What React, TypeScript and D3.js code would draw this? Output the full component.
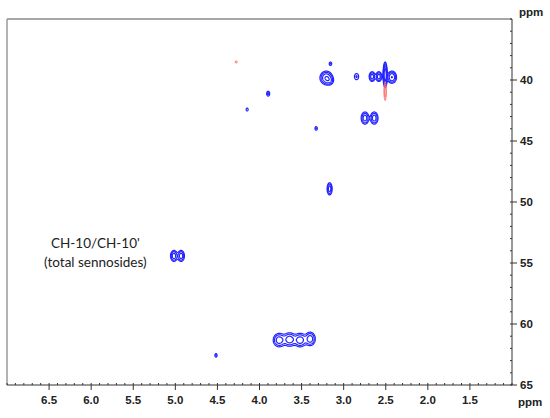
import React, { useMemo } from "react";
import * as d3 from "d3";

// Axis domains (ppm) — 1H on x (reversed), 13C on y (downwards)
const X_DOMAIN = [7.0, 1.0];
const Y_DOMAIN = [35, 65];
const xTickValues = [6.5, 6.0, 5.5, 5.0, 4.5, 4.0, 3.5, 3.0, 2.5, 2.0, 1.5];
const xTickLabels = ["6.5", "6.0", "5.5", "5.0", "4.5", "4.0", "3.5", "3.0", "2.5", "2.0", "1.5"];
const yTickValues = [40, 45, 50, 55, 60, 65];
const yTickLabels = ["40", "45", "50", "55", "60", "65"];
const xMinorStep = 0.1;
const yMinorStep = 1;

// Cross peaks
const peakX = [4.28, 3.16, 3.21, 3.17, 2.85, 2.665, 2.585, 2.51, 2.43, 2.51, 3.9, 4.15, 2.75, 2.64, 3.33, 3.17, 5.02, 4.935, 3.77, 3.645, 3.52, 3.40, 4.52];
const peakY = [38.5, 38.65, 39.8, 40.05, 39.7, 39.7, 39.7, 39.55, 39.75, 40.9, 41.1, 42.4, 43.1, 43.1, 43.95, 48.9, 54.4, 54.4, 61.3, 61.25, 61.3, 61.2, 62.55];
const peakHalfX = [0.012, 0.015, 0.075, 0.035, 0.025, 0.035, 0.035, 0.025, 0.055, 0.014, 0.018, 0.012, 0.045, 0.045, 0.014, 0.03, 0.04, 0.04, 0.07, 0.07, 0.07, 0.06, 0.013];
const peakHalfY = [0.08, 0.14, 0.55, 0.25, 0.25, 0.4, 0.4, 1.05, 0.5, 0.75, 0.2, 0.12, 0.5, 0.5, 0.15, 0.5, 0.45, 0.45, 0.55, 0.55, 0.55, 0.55, 0.15];
const peakHeight = [1.5, 1.8, 5, 2, 1.8, 4, 4, 8, 5, 2.5, 2, 1.6, 4, 4, 1.8, 4, 4, 4, 4, 4, 4, 4, 1.8];
const peakSign = [-1, 1, 1, 1, 1, 1, 1, 1, 1, -1, 1, 1, 1, 1, 1, 1, 1, 1, 1, 1, 1, 1, 1];
const contourLevels = [1, 1.7, 2.9, 4.9, 8.3];

const annotationLines = ["CH-10/CH-10'", "(total sennosides)"];
const annotationPos = [5.95, 53.8];

const W = 550;
const H = 418;
const M = { left: 7, top: 19, right: 512, bottom: 385 };

export default function App() {
  const x = d3.scaleLinear().domain(X_DOMAIN).range([M.left, M.right]);
  const y = d3.scaleLinear().domain(Y_DOMAIN).range([M.top, M.bottom]);

  const { pos, neg } = useMemo(() => {
    const R = 2;
    const n = Math.ceil((M.right - M.left) * R);
    const m = Math.ceil((M.bottom - M.top) * R);
    const vp = new Float64Array(n * m);
    const vn = new Float64Array(n * m);
    peakX.forEach((px, k) => {
      const A = peakHeight[k];
      const f = Math.sqrt(2 * Math.log(A));
      const cx = (x(px) - M.left) * R;
      const cy = (y(peakY[k]) - M.top) * R;
      const sx = (Math.abs(x(px + peakHalfX[k]) - x(px)) * R) / f;
      const sy = (Math.abs(y(peakY[k] + peakHalfY[k]) - y(peakY[k])) * R) / f;
      const arr = peakSign[k] > 0 ? vp : vn;
      const i0 = Math.max(0, Math.floor(cx - 5 * sx));
      const i1 = Math.min(n - 1, Math.ceil(cx + 5 * sx));
      const j0 = Math.max(0, Math.floor(cy - 5 * sy));
      const j1 = Math.min(m - 1, Math.ceil(cy + 5 * sy));
      for (let j = j0; j <= j1; j++) {
        const dy = (j - cy) / sy;
        for (let i = i0; i <= i1; i++) {
          const dx = (i - cx) / sx;
          arr[j * n + i] += A * Math.exp(-0.5 * (dx * dx + dy * dy));
        }
      }
    });
    const gen = d3.contours().size([n, m]).thresholds(contourLevels);
    const path = d3.geoPath(d3.geoIdentity().scale(1 / R).translate([M.left, M.top]));
    return {
      pos: gen(Array.from(vp)).map((c) => path(c as any) || ""),
      neg: gen(Array.from(vn)).map((c) => path(c as any) || ""),
    };
  }, []);

  const xMinor = d3.range(Math.round(X_DOMAIN[1] / xMinorStep), Math.round(X_DOMAIN[0] / xMinorStep) + 1).map((v) => v * xMinorStep);
  const yMinor = d3.range(Y_DOMAIN[0], Y_DOMAIN[1] + 1, yMinorStep);

  const axisColor = "#333";
  const tickFont = { fontFamily: "Liberation Sans, Arial, sans-serif", fontWeight: 700, fontSize: 11.5, fill: "#222" } as const;

  return (
    <svg width={W} height={H} style={{ position: "absolute", left: 0, top: 0, background: "#fff" }}>
      {/* frame top & left */}
      <line x1={M.left} x2={M.right} y1={M.top} y2={M.top} stroke="#8a8a8a" strokeWidth={1.5} />
      <line x1={M.left} x2={M.left} y1={M.top} y2={M.bottom} stroke="#9a9a9a" strokeWidth={1.5} />

      {/* contours */}
      <g fill="none" strokeLinejoin="round">
        {pos.map((d, i) => (
          <path key={"p" + i} d={d} stroke="#2424ff" strokeWidth={1.2} />
        ))}
        {neg.map((d, i) => (
          <path key={"n" + i} d={d} stroke="#ff6a6a" strokeWidth={1.1} strokeOpacity={0.8} />
        ))}
      </g>

      {/* bottom axis */}
      <line x1={M.left} x2={M.right} y1={M.bottom} y2={M.bottom} stroke={axisColor} strokeWidth={1} />
      {xMinor.map((v, i) => (
        <line key={"xm" + i} x1={x(v)} x2={x(v)} y1={M.bottom} y2={M.bottom - 2} stroke={axisColor} strokeWidth={1} />
      ))}
      {xTickValues.map((v, i) => (
        <g key={"xt" + i}>
          <line x1={x(v)} x2={x(v)} y1={M.bottom} y2={M.bottom + 5} stroke={axisColor} strokeWidth={1} />
          <text x={x(v)} y={M.bottom + 19} textAnchor="middle" {...tickFont}>
            {xTickLabels[i]}
          </text>
        </g>
      ))}
      <text x={518} y={M.bottom + 21} {...tickFont}>
        ppm
      </text>

      {/* right axis */}
      <line x1={M.right} x2={M.right} y1={M.top} y2={M.bottom} stroke={axisColor} strokeWidth={1} />
      {yMinor.map((v, i) => (
        <line key={"ym" + i} x1={M.right} x2={M.right - 2} y1={y(v)} y2={y(v)} stroke={axisColor} strokeWidth={1} />
      ))}
      {yTickValues.map((v, i) => (
        <g key={"yt" + i}>
          <line x1={M.right} x2={M.right + 5} y1={y(v)} y2={y(v)} stroke={axisColor} strokeWidth={1} />
          <text x={520} y={y(v) + 4} {...tickFont}>
            {yTickLabels[i]}
          </text>
        </g>
      ))}
      <text x={519} y={16} {...tickFont}>
        ppm
      </text>

      {/* annotation */}
      {annotationLines.map((t, i) => (
        <text
          key={"a" + i}
          x={x(annotationPos[0])}
          y={y(annotationPos[1]) + i * 19}
          textAnchor="middle"
          fontFamily="Lato, Carlito, Calibri, sans-serif"
          fontSize={13.5}
          fill="#222"
        >
          {t}
        </text>
      ))}
    </svg>
  );
}
